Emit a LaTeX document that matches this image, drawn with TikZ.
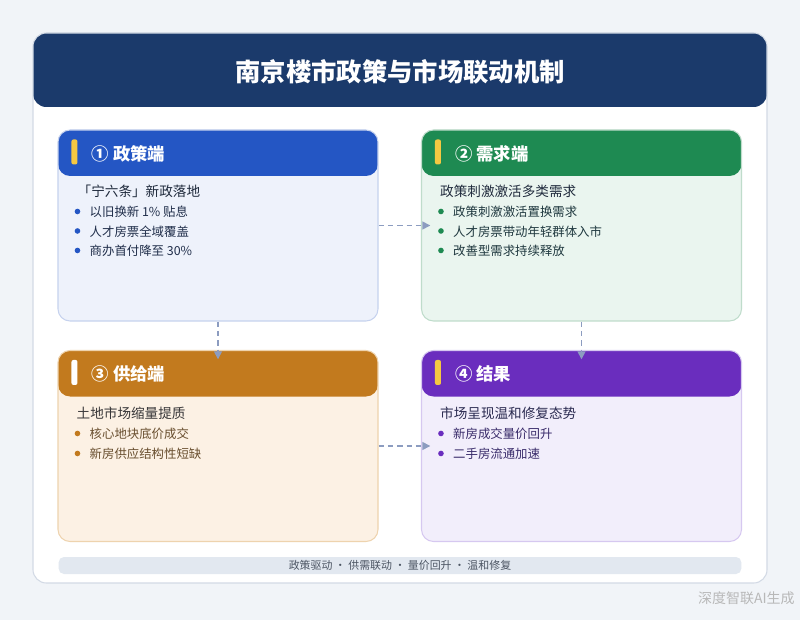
\documentclass[tikz,border=0pt]{standalone}
\usepackage{fontspec}
\setmainfont{Noto Sans CJK SC}
\usetikzlibrary{positioning,arrows.meta}
\definecolor{pagebg}{HTML}{F1F4F8}
\definecolor{navy}{HTML}{1B3A6B}
\definecolor{framedraw}{HTML}{D3DAE5}
\definecolor{polhead}{HTML}{2456C4}
\definecolor{polbody}{HTML}{EEF2FB}
\definecolor{poldraw}{HTML}{C6D2EE}
\definecolor{demhead}{HTML}{1E8A52}
\definecolor{dembody}{HTML}{EAF5EF}
\definecolor{demdraw}{HTML}{BFDCCB}
\definecolor{suphead}{HTML}{C27A1E}
\definecolor{supbody}{HTML}{FCF1E4}
\definecolor{supdraw}{HTML}{EED3AE}
\definecolor{reshead}{HTML}{6A2DBE}
\definecolor{resbody}{HTML}{F2EEFB}
\definecolor{resdraw}{HTML}{D6C8F0}
\definecolor{barcol}{HTML}{F5C842}
\definecolor{ink}{HTML}{1F2A3C}
\definecolor{linkcol}{HTML}{8C9CC0}
\definecolor{footbg}{HTML}{E2E8F0}

\begin{document}
\begin{tikzpicture}[x=0.75pt,y=-0.75pt,
    card/.style n args={3}{draw=#2, fill=#1, line width=0.8pt, rounded corners=9pt,
      minimum width=240pt, minimum height=143.25pt, inner sep=0pt,
      path picture={\fill[#3] (path picture bounding box.north west)
        rectangle ([yshift=-34.5pt]path picture bounding box.north east);}},
    cardtitle/.style={anchor=west, text=white, font=\fontsize{13pt}{15pt}\selectfont\bfseries, inner sep=0pt},
    heading/.style={anchor=west, font=\fontsize{10.2pt}{12pt}\selectfont, inner sep=0pt},
    item/.style={anchor=west, font=\fontsize{9.3pt}{11pt}\selectfont, inner sep=0pt},
    dot/.style={circle, fill=#1, inner sep=0pt, minimum size=4.2pt},
    link/.style={draw=linkcol, line width=1.1pt, dash pattern=on 4pt off 3pt,
      -{Triangle[length=6pt,width=6pt]}, shorten >=-7pt}]
  \useasboundingbox (0,0) rectangle (800,620);
  \fill[pagebg] (0,0) rectangle (800,620);

  % frame and title
  \node[draw=framedraw, fill=white, line width=0.8pt, rounded corners=10pt,
    minimum width=550.5pt, minimum height=412.5pt, inner sep=0pt,
    path picture={\fill[navy] (path picture bounding box.north west)
      rectangle ([yshift=-55.5pt]path picture bounding box.north east);}] (frame) at (400,308) {};
  \node[text=white, font=\fontsize{19pt}{21pt}\selectfont\bfseries] (title) at (400,72) {南京楼市政策与市场联动机制};

  % four cards
  \node[card={polbody}{poldraw}{polhead}] (pol) at (218,225.5) {};
  \node[card={dembody}{demdraw}{demhead}] (dem) at (581.5,225.5) {};
  \node[card={supbody}{supdraw}{suphead}] (sup) at (218,446) {};
  \node[card={resbody}{resdraw}{reshead}] (res) at (581.5,446) {};

  % header bars
  \fill[barcol, rounded corners=1.5pt] ([shift={(14,10)}]pol.north west) rectangle ([shift={(20,35)}]pol.north west);
  \fill[barcol, rounded corners=1.5pt] ([shift={(14,10)}]dem.north west) rectangle ([shift={(20,35)}]dem.north west);
  \fill[white, rounded corners=1.5pt] ([shift={(14,10)}]sup.north west) rectangle ([shift={(20,35)}]sup.north west);
  \fill[barcol, rounded corners=1.5pt] ([shift={(14,10)}]res.north west) rectangle ([shift={(20,35)}]res.north west);

  \node[cardtitle] (poltitle) at ([shift={(34,24)}]pol.north west) {① 政策端};
  \node[cardtitle] (demtitle) at ([shift={(34,24)}]dem.north west) {② 需求端};
  \node[cardtitle] (suptitle) at ([shift={(34,24)}]sup.north west) {③ 供给端};
  \node[cardtitle] (restitle) at ([shift={(34,24)}]res.north west) {④ 结果};

  % card 1
  \node[heading, text=ink] (polhead) at ([shift={(20,62)}]pol.north west) {「宁六条」新政落地};
  \foreach \t [count=\i] in {以旧换新 1\% 贴息, 人才房票全域覆盖, 商办首付降至 30\%} {
    \node[dot=polhead] (poldot\i) at ([shift={(20,62.5+19.5*\i)}]pol.north west) {};
    \node[item, text=ink!90!polhead] (politem\i) at ([shift={(32,63+19.5*\i)}]pol.north west) {\t};
  }

  % card 2
  \node[heading, text=ink] (demhead) at ([shift={(19,62)}]dem.north west) {政策刺激激活多类需求};
  \foreach \t [count=\i] in {政策刺激激活置换需求, 人才房票带动年轻群体入市, 改善型需求持续释放} {
    \node[dot=demhead] (demdot\i) at ([shift={(20,62.5+19.5*\i)}]dem.north west) {};
    \node[item, text=ink!85!demhead] (demitem\i) at ([shift={(32,63+19.5*\i)}]dem.north west) {\t};
  }

  % card 3
  \node[heading, text=ink!85!suphead] (suphead) at ([shift={(19,63)}]sup.north west) {土地市场缩量提质};
  \foreach \t [count=\i] in {核心地块底价成交, 新房供应结构性短缺} {
    \node[dot=suphead] (supdot\i) at ([shift={(20,63.5+20*\i)}]sup.north west) {};
    \node[item, text=ink!55!suphead] (supitem\i) at ([shift={(32,64+20*\i)}]sup.north west) {\t};
  }

  % card 4
  \node[heading, text=ink!85!reshead] (reshead) at ([shift={(19,63)}]res.north west) {市场呈现温和修复态势};
  \foreach \t [count=\i] in {新房成交量价回升, 二手房流通加速} {
    \node[dot=reshead] (resdot\i) at ([shift={(20,63.5+20*\i)}]res.north west) {};
    \node[item, text=ink!65!reshead] (resitem\i) at ([shift={(32,64+20*\i)}]res.north west) {\t};
  }

  % links
  \draw[link] (pol.east) -- (dem.west);
  \draw[link] (pol.south) -- (sup.north);
  \draw[link] (dem.south) -- (res.north);
  \draw[link] (sup.east) -- (res.west);

  % footer
  \node[fill=footbg, rounded corners=4pt, minimum width=512pt, minimum height=12.75pt,
    inner sep=0pt, text=ink!80!white, font=\fontsize{8.2pt}{9pt}\selectfont] (footer) at (400,565.5)
    {政策驱动 · 供需联动 · 量价回升 · 温和修复};
  \node[anchor=east, text=black!28, font=\fontsize{10.5pt}{12pt}\selectfont, inner sep=0pt] (mark) at (795,598) {深度智联AI生成};
\end{tikzpicture}
\end{document}
